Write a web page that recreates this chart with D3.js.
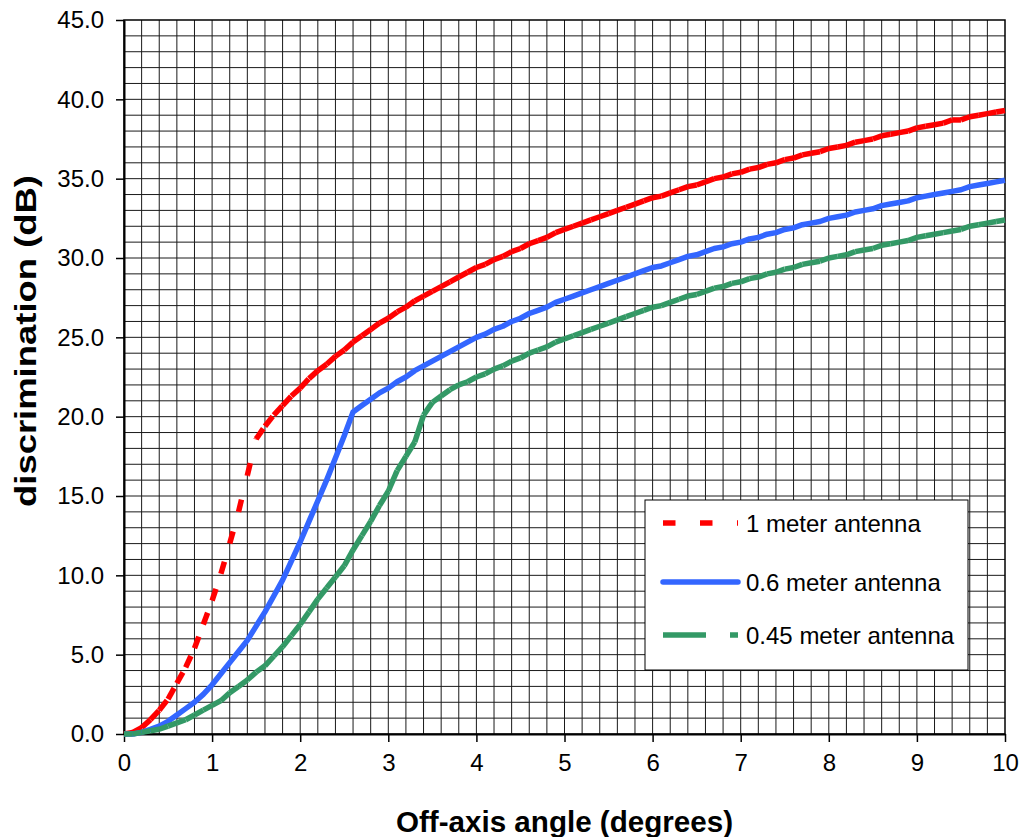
<!DOCTYPE html>
<html>
<head>
<meta charset="utf-8">
<script src="https://cdn.jsdelivr.net/npm/d3@7.9.0/dist/d3.min.js"></script>
<style>
  body { margin: 0; background: #fff; }
  svg { display: block; font-family: "Liberation Sans", Arial, sans-serif; }
</style>
</head>
<body>
<svg id="chart" width="1023" height="837"></svg>
<script>
// off-axis angle (degrees), one reading every 0.1 degree
const angles = [
  0.0, 0.1, 0.2, 0.3, 0.4, 0.5, 0.6, 0.7, 0.8, 0.9,
  1.0, 1.1, 1.2, 1.3, 1.4, 1.5, 1.6, 1.7, 1.8, 1.9,
  2.0, 2.1, 2.2, 2.3, 2.4, 2.5, 2.6, 2.7, 2.8, 2.9,
  3.0, 3.1, 3.2, 3.3, 3.4, 3.5, 3.6, 3.7, 3.8, 3.9,
  4.0, 4.1, 4.2, 4.3, 4.4, 4.5, 4.6, 4.7, 4.8, 4.9,
  5.0, 5.1, 5.2, 5.3, 5.4, 5.5, 5.6, 5.7, 5.8, 5.9,
  6.0, 6.1, 6.2, 6.3, 6.4, 6.5, 6.6, 6.7, 6.8, 6.9,
  7.0, 7.1, 7.2, 7.3, 7.4, 7.5, 7.6, 7.7, 7.8, 7.9,
  8.0, 8.1, 8.2, 8.3, 8.4, 8.5, 8.6, 8.7, 8.8, 8.9,
  9.0, 9.1, 9.2, 9.3, 9.4, 9.5, 9.6, 9.7, 9.8, 9.9,
  10.0
];

// discrimination (dB)
const oneMeter = [
  0.0, 0.1, 0.4, 0.9, 1.5, 2.2, 3.2, 4.2, 5.4, 6.9,
  8.4, 10.1, 12.0, 14.0, 16.3, 18.6, 19.4, 20.1, 20.7, 21.3,
  21.8, 22.4, 22.9, 23.3, 23.8, 24.2, 24.7, 25.1, 25.5, 25.9,
  26.2, 26.6, 26.9, 27.3, 27.6, 27.9, 28.2, 28.5, 28.8, 29.1,
  29.4, 29.6, 29.9, 30.1, 30.4, 30.6, 30.9, 31.1, 31.3, 31.6,
  31.8, 32.0, 32.2, 32.4, 32.6, 32.8, 33.0, 33.2, 33.4, 33.6,
  33.8, 33.9, 34.1, 34.3, 34.5, 34.6, 34.8, 35.0, 35.1, 35.3,
  35.4, 35.6, 35.7, 35.9, 36.0, 36.2, 36.3, 36.5, 36.6, 36.7,
  36.9, 37.0, 37.1, 37.3, 37.4, 37.5, 37.7, 37.8, 37.9, 38.0,
  38.2, 38.3, 38.4, 38.5, 38.7, 38.7, 38.9, 39.0, 39.1, 39.2,
  39.3
];
const sixTenths = [
  0.0, 0.0, 0.1, 0.3, 0.5, 0.8, 1.2, 1.6, 2.0, 2.5,
  3.1, 3.8, 4.5, 5.2, 5.9, 6.8, 7.7, 8.7, 9.7, 10.9,
  12.1, 13.4, 14.7, 16.0, 17.4, 18.8, 20.3, 20.7, 21.1, 21.5,
  21.8, 22.2, 22.5, 22.9, 23.2, 23.5, 23.8, 24.1, 24.4, 24.7,
  25.0, 25.2, 25.5, 25.7, 26.0, 26.2, 26.5, 26.7, 26.9, 27.2,
  27.4, 27.6, 27.8, 28.0, 28.2, 28.4, 28.6, 28.8, 29.0, 29.2,
  29.4, 29.5, 29.7, 29.9, 30.1, 30.2, 30.4, 30.6, 30.7, 30.9,
  31.0, 31.2, 31.3, 31.5, 31.6, 31.8, 31.9, 32.1, 32.2, 32.3,
  32.5, 32.6, 32.7, 32.9, 33.0, 33.1, 33.3, 33.4, 33.5, 33.6,
  33.8, 33.9, 34.0, 34.1, 34.2, 34.3, 34.5, 34.6, 34.7, 34.8,
  34.9
];
const fortyFiveHundredths = [
  0.0, 0.0, 0.1, 0.2, 0.3, 0.5, 0.7, 0.9, 1.2, 1.5,
  1.8, 2.1, 2.6, 3.0, 3.4, 3.9, 4.3, 4.9, 5.5, 6.2,
  6.9, 7.7, 8.5, 9.2, 9.9, 10.6, 11.6, 12.5, 13.4, 14.4,
  15.3, 16.6, 17.5, 18.4, 20.1, 20.9, 21.3, 21.7, 22.0, 22.2,
  22.5, 22.7, 23.0, 23.2, 23.5, 23.7, 24.0, 24.2, 24.4, 24.7,
  24.9, 25.1, 25.3, 25.5, 25.7, 25.9, 26.1, 26.3, 26.5, 26.7,
  26.9, 27.0, 27.2, 27.4, 27.6, 27.7, 27.9, 28.1, 28.2, 28.4,
  28.5, 28.7, 28.8, 29.0, 29.1, 29.3, 29.4, 29.6, 29.7, 29.8,
  30.0, 30.1, 30.2, 30.4, 30.5, 30.6, 30.8, 30.9, 31.0, 31.1,
  31.3, 31.4, 31.5, 31.6, 31.7, 31.8, 32.0, 32.1, 32.2, 32.3,
  32.4
];

const seriesNames = ['1 meter antenna', '0.6 meter antenna', '0.45 meter antenna'];
const xTicks = [0, 1, 2, 3, 4, 5, 6, 7, 8, 9, 10];
const yTicks = [0, 5, 10, 15, 20, 25, 30, 35, 40, 45];

const series = [
  { name: seriesNames[0], values: oneMeter, color: '#ff0000', dash: '12.5,24.5', perSegment: true },
  { name: seriesNames[1], values: sixTenths, color: '#3366ff', dash: null, perSegment: false },
  { name: seriesNames[2], values: fortyFiveHundredths, color: '#339966', dash: '43,24', perSegment: true }
];

const svg = d3.select('#chart');
const margin = { top: 20, right: 18, bottom: 103, left: 124 };
const width = 1023 - margin.left - margin.right;
const height = 837 - margin.top - margin.bottom;

const x = d3.scaleLinear().domain([0, 10]).range([0, width]);
const y = d3.scaleLinear().domain([0, 45]).range([height, 0]);

const g = svg.append('g').attr('transform', `translate(${margin.left},${margin.top})`);

// grid: every 0.2 degree and every 1 dB
const gridX = d3.range(1, 50).map((i) => i / 5);
const gridY = d3.range(1, 45);
g.append('g')
    .selectAll('line')
    .data(gridX)
    .join('line')
    .attr('x1', (d) => x(d)).attr('x2', (d) => x(d))
    .attr('y1', 0).attr('y2', height)
    .attr('stroke', '#1a1a1a').attr('stroke-width', 1);
g.append('g')
    .selectAll('line')
    .data(gridY)
    .join('line')
    .attr('y1', (d) => y(d)).attr('y2', (d) => y(d))
    .attr('x1', 0).attr('x2', width)
    .attr('stroke', '#1a1a1a').attr('stroke-width', 1);

// axes
const xAxis = g.append('g')
    .attr('transform', `translate(0,${height})`)
    .call(d3.axisBottom(x).tickValues(xTicks).tickFormat(d3.format('d')).tickSize(8).tickSizeOuter(0).tickPadding(12));
const yAxis = g.append('g')
    .call(d3.axisLeft(y).tickValues(yTicks).tickFormat(d3.format('.1f')).tickSize(8).tickSizeOuter(0).tickPadding(12));

[xAxis, yAxis].forEach((ax) => {
    ax.select('.domain').attr('stroke', '#000').attr('stroke-width', 2);
    ax.selectAll('.tick line').attr('stroke', '#000').attr('stroke-width', 1.5);
    ax.selectAll('.tick text')
        .attr('fill', '#000')
        .style('font-size', '24px')
        .style('font-family', '"Liberation Sans", Arial, sans-serif');
});

// frame
g.append('rect')
    .attr('width', width).attr('height', height)
    .attr('fill', 'none').attr('stroke', '#000').attr('stroke-width', 1.5);

// curves
series.forEach((s) => {
    const pts = angles.map((a, i) => [x(a), y(s.values[i])]);
    if (s.perSegment) {
        // each segment starts its own dash pattern, as in the original
        g.append('g')
            .selectAll('line')
            .data(d3.pairs(pts))
            .join('line')
            .attr('x1', (d) => d[0][0]).attr('y1', (d) => d[0][1])
            .attr('x2', (d) => d[1][0]).attr('y2', (d) => d[1][1])
            .attr('stroke', s.color)
            .attr('stroke-width', 5.5)
            .attr('stroke-dasharray', s.dash);
    } else {
        g.append('path')
            .attr('d', d3.line()(pts))
            .attr('fill', 'none')
            .attr('stroke', s.color)
            .attr('stroke-width', 5.5)
            .attr('stroke-linejoin', 'round');
    }
});

// legend
const legend = svg.append('g').attr('transform', 'translate(645,500)');
legend.append('rect')
    .attr('width', 323).attr('height', 170)
    .attr('fill', '#fff').attr('stroke', '#000').attr('stroke-width', 1);
const rowY = [23, 82, 135];
series.forEach((s, i) => {
    legend.append('line')
        .attr('x1', 18).attr('x2', 93)
        .attr('y1', rowY[i]).attr('y2', rowY[i])
        .attr('stroke', s.color)
        .attr('stroke-width', 5.5)
        .attr('stroke-linecap', s.dash ? 'butt' : 'round')
        .attr('stroke-dasharray', s.dash);
    legend.append('text')
        .attr('x', 101).attr('y', rowY[i] + 3)
        .attr('dominant-baseline', 'middle')
        .style('font-size', '24px')
        .text(s.name);
});

// titles
svg.append('text')
    .attr('x', 396).attr('y', 832)
    .attr('textLength', 337).attr('lengthAdjust', 'spacingAndGlyphs')
    .style('font-size', '29px').style('font-weight', 'bold')
    .text('Off-axis angle (degrees)');
svg.append('text')
    .attr('transform', 'translate(36,507) rotate(-90)')
    .attr('textLength', 332).attr('lengthAdjust', 'spacingAndGlyphs')
    .style('font-size', '29px').style('font-weight', 'bold')
    .text('discrimination (dB)');
</script>
</body>
</html>
